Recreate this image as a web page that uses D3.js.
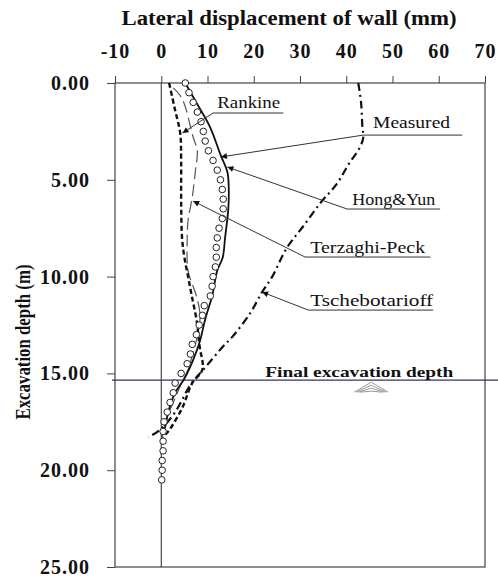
<!DOCTYPE html>
<html lang="en">
<head>
<meta charset="UTF-8"/>
<title>Lateral displacement of wall</title>
<script src="https://d3js.org/d3.v7.min.js"></script>
<style>
  body { margin: 0; background: #fff; }
  svg { display: block; }
  text { font-family: "Liberation Serif", "Times New Roman", serif; fill: #111; }
</style>
</head>
<body>
<script>

var w = 498;
var h = 577;

// ---- data (displacement in mm, depth in m) ----
var dispTicks = [-10, 0, 10, 20, 30, 40, 50, 60, 70];
var depthTicks = [0, 5, 10, 15, 20, 25];

var measuredDepth = [0, 0.5, 1, 1.5, 2, 2.5, 3, 3.5, 4, 4.5, 5, 5.5, 6, 6.5, 7, 7.5, 8, 8.5, 9, 9.5,
                     10, 10.5, 11, 11.5, 12, 12.5, 13, 13.5, 14, 14.5, 15, 15.5, 16, 16.5, 17, 17.5,
                     18, 18.5, 19, 19.5, 20, 20.5];
var measuredDisp = [5.2, 6.0, 6.9, 7.8, 8.6, 9.1, 9.5, 10.2, 11.2, 12.1, 12.8, 13.2, 13.4, 13.4, 13.2, 12.5,
                    12.1, 11.9, 11.9, 11.7, 11.2, 11.0, 10.6, 9.3, 8.9, 8.2, 7.6, 6.7, 6.3, 5.6, 4.3, 3.0,
                    2.6, 1.9, 1.3, 0.6, 0.4, 0.4, 0.4, 0.2, 0.2, 0.1];

var hongDepth = [0, 1.1, 2.3, 3.7, 4.6, 5.5, 6.5, 8.0, 9.0, 9.7, 11.0, 12.2, 13.3, 14.3, 15.0, 15.35, 16.0, 17.0, 17.7, 18.2];
var hongDisp  = [5.2, 7.8, 10.6, 12.8, 14.3, 14.6, 14.5, 13.8, 13.3, 12.1, 11.0, 9.5, 8.4, 6.9, 5.6, 4.8, 3.0, 1.5, 0.9, 0.2];

var rankineDepth = [0, 1.3, 2.6, 4.0, 6.0, 8.0, 9.0, 10.0, 11.0, 12.2, 13.6, 14.8, 15.5, 16.8, 18.0, 18.3];
var rankineDisp  = [1.7, 2.9, 4.1, 4.3, 4.3, 4.5, 5.0, 5.8, 6.6, 7.6, 8.3, 8.9, 6.7, 4.5, 1.5, 0.2];

var terzaghiDepth = [0.25, 0.8, 2.8, 3.5, 4.5, 5.9, 7.1, 8.3, 9.7, 11.0, 12.0, 13.0, 13.9, 14.8, 15.5, 16.5, 17.3, 17.9];
var terzaghiDisp  = [2.6, 4.5, 6.9, 7.8, 7.4, 6.7, 5.8, 5.6, 5.8, 7.6, 8.4, 7.9, 6.9, 5.8, 4.4, 2.6, 1.2, 0.3];

var tschebDepth = [0, 1.0, 2.3, 2.8, 3.3, 4.2, 5.2, 6.2, 7.4, 8.5, 10.0, 10.8, 11.9, 13.1, 13.6, 14.8, 15.6, 17.0, 17.9, 18.3];
var tschebDisp  = [42.6, 43.2, 43.5, 43.7, 43.0, 40.5, 38.0, 34.4, 30.7, 27.2, 24.0, 21.8, 19.2, 15.4, 13.4, 9.1, 6.3, 3.0, -0.2, -2.8];

var finalDepth = 15.35;

// ---- scales ----
var xScale = d3.scaleLinear().domain([-10, 70]).range([115, 485]);
var yScale = d3.scaleLinear().domain([0, 25]).range([83, 567]);

var svg = d3.select("body").append("svg")
    .attr("width", w)
    .attr("height", h);

var defs = svg.append("defs");
defs.append("marker")
    .attr("id", "arrow")
    .attr("viewBox", "0 0 10 10")
    .attr("refX", 10).attr("refY", 5)
    .attr("markerWidth", 7).attr("markerHeight", 6)
    .attr("orient", "auto")
    .append("path")
    .attr("d", "M0,0 L10,5 L0,10 z")
    .attr("fill", "#111");

// frame
svg.append("rect")
    .attr("x", xScale(-10)).attr("y", yScale(0))
    .attr("width", xScale(70) - xScale(-10))
    .attr("height", yScale(25) - yScale(0))
    .attr("fill", "none")
    .attr("stroke", "#444")
    .attr("stroke-width", 1.2);

// zero line
svg.append("line")
    .attr("x1", xScale(0)).attr("x2", xScale(0))
    .attr("y1", yScale(0)).attr("y2", yScale(25))
    .attr("stroke", "#222").attr("stroke-width", 1);

// axes
var xAxis = d3.axisTop(xScale).tickValues(dispTicks).tickSize(7).tickSizeOuter(0).tickPadding(18)
    .tickFormat(function(d) { return d < 0 ? "-" + Math.abs(d) : String(d); });
var yAxis = d3.axisLeft(yScale).tickValues(depthTicks).tickSize(8).tickSizeOuter(0).tickPadding(17)
    .tickFormat(d3.format(".2f"));

var gx = svg.append("g").attr("transform", "translate(0," + yScale(0) + ")").call(xAxis);
var gy = svg.append("g").attr("transform", "translate(" + xScale(-10) + ",0)").call(yAxis);

[gx, gy].forEach(function(g) {
    g.select(".domain").remove();
    g.selectAll(".tick line").attr("stroke", "#444");
    g.selectAll("text")
        .attr("fill", "#111")
        .style("font-family", "'Liberation Serif', serif")
        .style("font-weight", "bold")
        .style("font-size", "20px")
        .style("letter-spacing", "1px");
});

// titles
svg.append("text")
    .attr("x", 289).attr("y", 25)
    .attr("text-anchor", "middle")
    .attr("textLength", 335).attr("lengthAdjust", "spacingAndGlyphs")
    .style("font-weight", "bold").style("font-size", "20px")
    .text("Lateral displacement of wall (mm)");

svg.append("text")
    .attr("transform", "translate(30,342) rotate(-90)")
    .attr("text-anchor", "middle")
    .attr("textLength", 155).attr("lengthAdjust", "spacingAndGlyphs")
    .style("font-weight", "bold").style("font-size", "21px")
    .text("Excavation depth (m)");

// final excavation depth line
svg.append("line")
    .attr("x1", xScale(-10) - 3).attr("x2", w)
    .attr("y1", yScale(finalDepth)).attr("y2", yScale(finalDepth))
    .attr("stroke", "#33336b").attr("stroke-width", 1.3);

svg.append("text")
    .attr("x", xScale(22.5)).attr("y", yScale(15.19))
    .attr("textLength", 188).attr("lengthAdjust", "spacingAndGlyphs")
    .style("font-weight", "bold").style("font-size", "14px")
    .text("Final excavation depth");

// ground hatch symbol
var hx = xScale(45.4), hy = yScale(finalDepth);
for (var i = 0; i < 4; i++) {
    svg.append("polyline")
        .attr("points", [[hx - 17 + i * 2, hy + 12], [hx, hy + 2 + i * 3], [hx + 17 - i * 2, hy + 12]].join(" "))
        .attr("fill", "none").attr("stroke", "#999").attr("stroke-width", 1);
}

// curves
function series(disp, depth) {
    return disp.map(function(d, i) { return [d, depth[i]]; });
}
var line = d3.line()
    .x(function(d) { return xScale(d[0]); })
    .y(function(d) { return yScale(d[1]); })
    .curve(d3.curveCatmullRom.alpha(0.5));

svg.append("path").datum(series(terzaghiDisp, terzaghiDepth))
    .attr("d", line).attr("fill", "none")
    .attr("stroke", "#555").attr("stroke-width", 1.2).attr("stroke-dasharray", "12,5");

svg.append("path").datum(series(rankineDisp, rankineDepth))
    .attr("d", line).attr("fill", "none")
    .attr("stroke", "#111").attr("stroke-width", 2.4).attr("stroke-dasharray", "5,3");

svg.append("path").datum(series(tschebDisp, tschebDepth))
    .attr("d", line).attr("fill", "none")
    .attr("stroke", "#111").attr("stroke-width", 2.2).attr("stroke-dasharray", "8,4,2,4");

svg.append("path").datum(series(hongDisp, hongDepth))
    .attr("d", line).attr("fill", "none")
    .attr("stroke", "#111").attr("stroke-width", 1.8);

svg.selectAll("circle.measured")
    .data(series(measuredDisp, measuredDepth))
    .enter()
    .append("circle")
    .attr("class", "measured")
    .attr("cx", function(d) { return xScale(d[0]); })
    .attr("cy", function(d) { return yScale(d[1]); })
    .attr("r", 3.3)
    .attr("fill", "#fff")
    .attr("stroke", "#222")
    .attr("stroke-width", 1);

// labels with leaders: [textX, textY, lineFrom, lineTo, lineY, tipX, tipY, width]
var labelText = ["Rankine", "Measured", "Hong&Yun", "Terzaghi-Peck", "Tschebotarioff"];
var labelLayout = [
    [12.1, 1.29, 11.2, 26.4, 1.55, 4.6, 2.58, 63],
    [45.8, 2.32, 43.7, 65.1, 2.69, 12.9, 3.82, 77],
    [41.3, 6.30, 40.2, 60.3, 6.51, 14.3, 4.34, 83],
    [32.2, 8.78, 31.1, 58.2, 8.99, 6.9, 6.10, 115],
    [32.2, 11.52, 31.8, 58.8, 11.73, 21.8, 10.80, 123]
];

labelText.forEach(function(t, i) {
    var L = labelLayout[i];
    svg.append("text")
        .attr("x", xScale(L[0])).attr("y", yScale(L[1]))
        .attr("textLength", L[7]).attr("lengthAdjust", "spacingAndGlyphs")
        .style("font-size", "17px")
        .text(t);
    svg.append("line")
        .attr("x1", xScale(L[2])).attr("x2", xScale(L[3]))
        .attr("y1", yScale(L[4])).attr("y2", yScale(L[4]))
        .attr("stroke", "#333").attr("stroke-width", 1);
    svg.append("line")
        .attr("x1", xScale(L[2])).attr("y1", yScale(L[4]))
        .attr("x2", xScale(L[5])).attr("y2", yScale(L[6]))
        .attr("stroke", "#333").attr("stroke-width", 1)
        .attr("marker-end", "url(#arrow)");
});

</script>
</body>
</html>
